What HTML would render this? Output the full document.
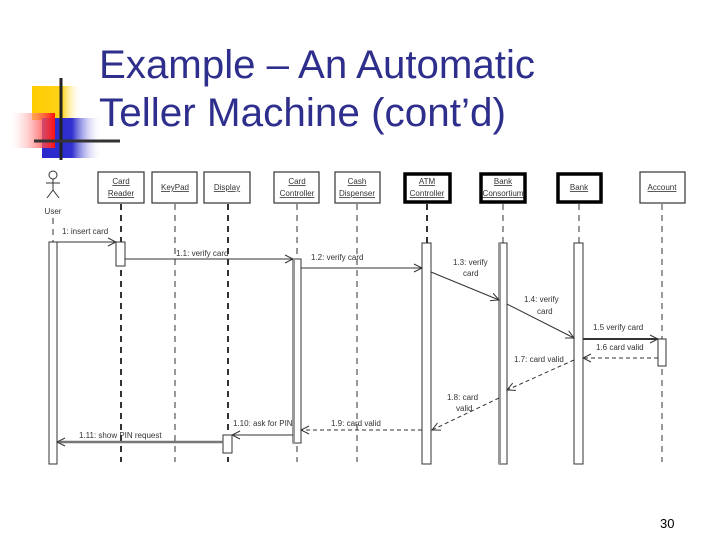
<!DOCTYPE html>
<html><head><style>
body{margin:0;width:720px;height:540px;background:#fff;overflow:hidden}
svg{display:block}
</style></head><body>
<svg width="720" height="540" viewBox="0 0 720 540" xmlns="http://www.w3.org/2000/svg" font-family="Liberation Sans, sans-serif">
<defs>
<linearGradient id="gy" x1="0" x2="1"><stop offset="0" stop-color="#ffcc00"/><stop offset="0.6" stop-color="#ffd21a"/><stop offset="1" stop-color="#fff" stop-opacity="0"/></linearGradient>
<linearGradient id="gr" x1="1" x2="0"><stop offset="0" stop-color="#ff1010"/><stop offset="1" stop-color="#fff" stop-opacity="0.2"/></linearGradient>
<linearGradient id="gb" x1="0" x2="1"><stop offset="0" stop-color="#2a2acc"/><stop offset="0.5" stop-color="#3030d0"/><stop offset="1" stop-color="#fff" stop-opacity="0"/></linearGradient>
<marker id="oa" markerWidth="10" markerHeight="10" refX="9" refY="5" orient="auto" markerUnits="userSpaceOnUse"><path d="M1,1 L9,5 L1,9" fill="none" stroke="#333" stroke-width="1"/></marker>
</defs>
<rect x="32" y="86" width="50" height="34" fill="url(#gy)"/>
<rect x="42" y="118" width="60" height="40" fill="url(#gb)"/>
<rect x="10" y="113" width="45" height="35" fill="url(#gr)"/>
<line x1="61" y1="78" x2="61" y2="160" stroke="#222" stroke-width="3"/>
<line x1="34" y1="141" x2="120" y2="141" stroke="#333" stroke-width="3"/>
<g fill="#2e2e8c" font-size="40">
<text x="99" y="78" textLength="436" lengthAdjust="spacingAndGlyphs">Example – An Automatic</text>
<text x="99" y="126" textLength="407" lengthAdjust="spacingAndGlyphs">Teller Machine (cont’d)</text>
</g>
<text x="660" y="528" font-size="13" fill="#000">30</text>

<g font-size="8" fill="#333" text-anchor="middle">
<circle cx="53" cy="175" r="4" fill="none" stroke="#333"/>
<path d="M53,179 V190 M46,183 H60 M53,190 L47,198 M53,190 L59,198" stroke="#333" fill="none"/>
<text x="53" y="214">User</text>
<g fill="#fff" stroke="#333" stroke-width="1.2">
<rect x="98" y="172" width="46" height="31"/>
<rect x="152" y="172" width="45" height="31"/>
<rect x="204" y="172" width="46" height="31"/>
<rect x="274" y="172" width="45" height="31"/>
<rect x="335" y="172" width="45" height="31"/>
<rect x="640" y="172" width="45" height="31"/>
</g>
<g fill="#fff" stroke="#000" stroke-width="3.5">
<rect x="405" y="174" width="45" height="28"/>
<rect x="481" y="174" width="44" height="28"/>
<rect x="558" y="174" width="43" height="28"/>
</g>
<g text-decoration="underline">
<text x="121" y="184">Card</text><text x="121" y="196">Reader</text>
<text x="175" y="190">KeyPad</text>
<text x="227" y="190">Display</text>
<text x="297" y="184">Card</text><text x="297" y="196">Controller</text>
<text x="357" y="184">Cash</text><text x="357" y="196">Dispenser</text>
<text x="427" y="184">ATM</text><text x="427" y="196">Controller</text>
<text x="503" y="184">Bank</text><text x="503" y="196">Consortium</text>
<text x="579" y="190">Bank</text>
<text x="662" y="190">Account</text>
</g>
</g>
<g stroke="#333" stroke-dasharray="6,5" stroke-width="1">
<line x1="53" y1="218" x2="53" y2="242"/>
<line x1="121" y1="204" x2="121" y2="462" stroke-width="2"/>
<line x1="175" y1="204" x2="175" y2="462"/>
<line x1="228" y1="204" x2="228" y2="462" stroke-width="2"/>
<line x1="297" y1="204" x2="297" y2="462"/>
<line x1="357" y1="204" x2="357" y2="462"/>
<line x1="427" y1="204" x2="427" y2="243" stroke-width="2"/>
<line x1="503" y1="204" x2="503" y2="243"/>
<line x1="579" y1="204" x2="579" y2="243"/>
<line x1="662" y1="204" x2="662" y2="462"/>
</g>
<g fill="#fff" stroke="#333" stroke-width="1">
<rect x="49" y="242" width="8" height="222"/>
<rect x="116" y="242" width="9" height="24"/>
<rect x="293" y="259" width="8" height="184"/>
<rect x="422" y="243" width="9" height="221"/>
<rect x="499" y="243" width="8" height="221"/>
<rect x="574" y="243" width="9" height="221"/>
<rect x="658" y="339" width="8" height="27"/>
<rect x="223" y="435" width="9" height="18"/>
</g>
<line x1="500" y1="243" x2="500" y2="464" stroke="#999" stroke-width="2"/>
<line x1="294" y1="259" x2="294" y2="443" stroke="#999" stroke-width="2"/>
<g stroke="#333" stroke-width="1" fill="none" marker-end="url(#oa)">
<line x1="57" y1="242" x2="116" y2="242"/>
<line x1="125" y1="259" x2="293" y2="259"/>
<line x1="301" y1="268" x2="422" y2="268"/>
<line x1="431" y1="272" x2="499" y2="300"/>
<line x1="507" y1="304" x2="574" y2="338"/>
<line x1="583" y1="339" x2="658" y2="339" stroke-width="2"/>
<line x1="293" y1="435" x2="232" y2="435"/>
<line x1="223" y1="442" x2="57" y2="442" stroke="#777" stroke-width="2.5"/>
<g stroke-dasharray="4,3">
<line x1="658" y1="358" x2="583" y2="358"/>
<line x1="574" y1="360" x2="507" y2="390"/>
<line x1="499" y1="398" x2="432" y2="430"/>
<line x1="422" y1="430" x2="301" y2="430"/>
</g>
</g>
<g font-size="8" fill="#333">
<text x="62" y="234">1: insert card</text>
<text x="176" y="256">1.1: verify card</text>
<text x="311" y="260">1.2: verify card</text>
<text x="453" y="265">1.3: verify</text><text x="463" y="276">card</text>
<text x="524" y="302">1.4:  verify</text><text x="537" y="314">card</text>
<text x="593" y="330">1.5 verify card</text>
<text x="596" y="350">1.6 card valid</text>
<text x="514" y="362">1.7: card valid</text>
<text x="447" y="400">1.8: card</text><text x="456" y="411">valid</text>
<text x="331" y="426">1.9: card valid</text>
<text x="233" y="426">1.10: ask for PIN</text>
<text x="79" y="438">1.11: show PIN request</text>
</g>
</svg>
</body></html>
